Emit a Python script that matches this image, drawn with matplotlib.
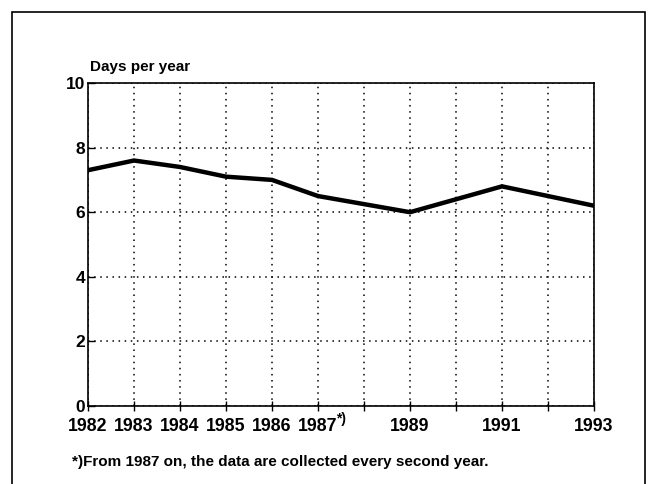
import matplotlib

matplotlib.use("Agg")
import matplotlib.pyplot as plt
from matplotlib.patches import Rectangle

plt.rcParams["font.family"] = ["Liberation Sans", "DejaVu Sans"]
plt.rcParams["font.weight"] = "bold"

# data
YEARS = [1982, 1983, 1984, 1985, 1986, 1987, 1989, 1991, 1993]
DAYS = [7.3, 7.6, 7.4, 7.1, 7.0, 6.5, 6.0, 6.8, 6.2]
TICK_YEARS = list(range(1982, 1994))
LABELLED = ["1982", "1983", "1984", "1985", "1986", "1987", "", "1989", "", "1991", "", "1993"]
Y_TICKS = [0, 2, 4, 6, 8, 10]

W, H = 658, 484

fig = plt.figure(figsize=(W / 100, H / 100), dpi=100)
fig.patch.set_facecolor("white")

# outer frame (bottom edge runs off the page)
fig.add_artist(Rectangle((12 / W, -0.05), 633 / W, 1.05 - 12 / H,
                         transform=fig.transFigure, fill=False,
                         edgecolor="black", linewidth=1.2))

ax = fig.add_axes([88 / W, 1 - 406 / H, (594 - 88) / W, (406 - 83) / H])
ax.plot(YEARS, DAYS, color="black", linewidth=3.2, solid_joinstyle="miter",
        zorder=3)

ax.set_xlim(1982, 1993)
ax.set_ylim(0, 10)
ax.set_xticks(TICK_YEARS)
ax.set_xticklabels(LABELLED)
ax.set_yticks(Y_TICKS)
ax.tick_params(axis="x", direction="inout", length=7, width=1, labelsize=12.8,
               pad=5, colors="black")
ax.tick_params(axis="y", direction="in", length=5, width=1, labelsize=12.5,
               pad=2, colors="black")
for lbl in ax.get_xticklabels() + ax.get_yticklabels():
    lbl.set_fontweight("bold")

ax.grid(True, linestyle=(0, (1, 3)), color="black", linewidth=1.1)
for s in ax.spines.values():
    s.set_linewidth(1.2)

# superscript on 1987
ax.text(1987.4, -0.2, "*)", ha="left", va="top", fontsize=10,
        fontweight="bold", clip_on=False)

fig.text(90 / W, 1 - 71 / H, "Days per year", ha="left", va="baseline",
         fontsize=11, fontweight="bold")
fig.text(72 / W, 1 - 462 / H,
         "*)From 1987 on, the data are collected every second year.",
         ha="left", va="center", fontsize=11, fontweight="bold")

fig.savefig("out.png", dpi=100, facecolor="white")
